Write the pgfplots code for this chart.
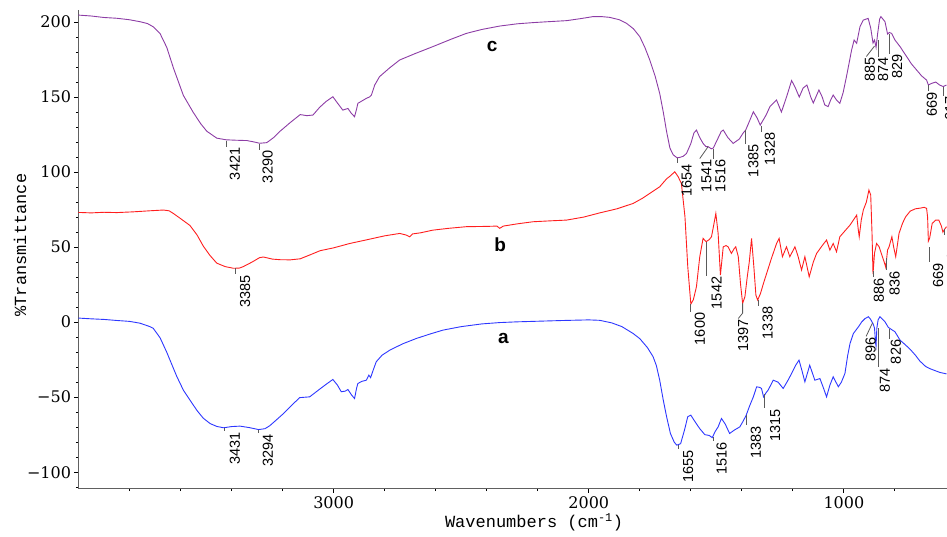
\documentclass[border=0pt]{standalone}
\usepackage{pgfplots}
\pgfplotsset{compat=1.18}
\usepackage{fontspec}
\setmainfont{Liberation Sans}
\newfontfamily\tickfont{DejaVu Serif}
\newfontfamily\labfont{Liberation Mono}
\definecolor{cpur}{RGB}{140,60,165}
\definecolor{cred}{RGB}{255,30,30}
\definecolor{cblue}{RGB}{45,55,255}
\definecolor{anngray}{RGB}{90,90,90}
\tikzset{annline/.style={draw=anngray, line width=0.8pt},
  annlab/.style={rotate=90, anchor=east, inner sep=1pt, font=\fontsize{14.5}{14.5}\selectfont}}
\newcommand{\ann}[6]{%
  \draw[annline] (axis cs:#1,#2) -- (axis cs:#3,#4);
  \node[annlab] at (axis cs:#5,#4) {#6};}
\begin{document}
\begin{tikzpicture}
\begin{axis}[
  at={(0pt,0pt)}, anchor=south west,
  width=868.5pt, height=478.7pt, scale only axis,
  x dir=reverse, xmin=596, xmax=4000, ymin=-111, ymax=208,
  axis lines*=left,
  axis line style={draw=gray!75!black, line width=1.1pt},
  xtick={1000,2000,3000}, xticklabels={1000,2000,3000},
  minor xtick={800,1200,1400,1600,1800,2200,2400,2600,2800,3200,3400,3600,3800},
  ytick={-100,-50,0,50,100,150,200}, yticklabels={−100,−50,0,50,100,150,200},
  minor ytick={-110,-90,-80,-70,-60,-40,-30,-20,-10,10,20,30,40,60,70,80,90,110,120,130,140,160,170,180,190},
  tick align=outside, major tick length=4pt, minor tick length=2.5pt,
  every tick/.style={black, line width=1pt},
  tick label style={font=\tickfont\fontsize{16}{16}\selectfont},
  /pgf/number format/assume math mode=true,
  xlabel={Wavenumbers (cm\textsuperscript{-1})},
  ylabel={\%Transmittance},
  label style={font=\labfont\fontsize{17}{17}\selectfont},
  xlabel style={at={(axis description cs:0.5245,-0.0696)}, anchor=center},
  ylabel style={at={(axis description cs:-0.0674,0.509)}, anchor=center},
]
% curve c
\addplot[cpur, line width=0.9pt] coordinates {
(4000,204.6)(3950,204)(3900,203)(3850,202.5)(3800,201.5)(3759,200.2)(3730,199)(3707,196.8)(3680,192.2)(3654,183.1)(3628,169.4)(3589,151.1)(3550,139.7)(3520,132)(3497,127.2)(3458,122.6)(3421,121.5)(3380,121.2)(3340,121)(3310,120)(3290,119.2)(3262,119.6)(3235,123)(3210,127.2)(3170,133)(3131,138.3)(3105,137.6)(3081,138)(3055,143.1)(3030,147)(3003,150.2)(2985,146)(2964,141.3)(2944,142.4)(2930,139)(2918,136.9)(2910,142)(2905,145.8)(2872,149.1)(2860,150)(2852,151.3)(2839,158)(2820,163.6)(2780,169.5)(2741,174.7)(2680,179)(2611,183.6)(2540,188.5)(2480,192.4)(2420,195)(2349,197.3)(2280,198.8)(2218,199.6)(2150,200.3)(2087,200.9)(2030,202.3)(1983,203.6)(1950,203.6)(1918,203.1)(1880,201.5)(1852,199.1)(1825,195.5)(1800,190.2)(1780,183)(1761,174.7)(1740,164)(1722,152.4)(1708,140)(1695,127)(1682,116)(1669,111.5)(1654,109.5)(1643,109.8)(1630,110.5)(1617,112.4)(1600,119)(1588,126)(1578,128)(1565,123)(1552,119.1)(1541,117)(1532,116.9)(1520,115.5)(1512,116)(1495,122)(1481,127)(1473,128)(1455,123)(1434,119.1)(1410,122)(1395,126)(1385,128)(1370,134)(1355,140.2)(1340,136)(1328,131.3)(1305,138)(1290,143.6)(1264,148)(1245,140)(1225,150)(1205,161)(1190,156)(1175,150)(1160,156)(1145,158)(1130,150)(1120,146)(1110,150)(1098,154.7)(1085,150)(1075,144.7)(1062,143.6)(1052,148)(1042,151.3)(1029,148)(1016,145.8)(1003,153)(990,163.6)(977,175)(970,181.3)(960,188)(950,185.8)(937,196.9)(924,201.3)(905,202.4)(895,196)(886,186)(880,188)(874,183)(868,192)(860,202)(855,203.6)(839,200.2)(829,192)(822,193)(813,192.4)(800,188)(780,183.6)(754,176.9)(735,172)(715,168)(695,164)(676,161.3)(669,158)(656,159.1)(640,160)(625,158)(611,157)(598,158)};
% curve b
\addplot[cred, line width=0.9pt] coordinates {
(4000,73.1)(3950,72.8)(3900,73.2)(3850,73)(3785,73.5)(3720,74.2)(3667,74.7)(3645,74.2)(3628,72.4)(3600,69)(3563,64.4)(3535,58)(3511,50.7)(3485,44.5)(3458,39.3)(3425,37)(3393,35.9)(3370,36)(3354,37)(3320,40)(3290,43)(3275,43.4)(3240,42)(3210,41.6)(3170,41.5)(3131,42.2)(3090,45)(3053,47.6)(3000,49.5)(2937,52.4)(2880,54.5)(2800,57.5)(2741,59.1)(2715,58)(2702,56.9)(2690,58.8)(2660,59.5)(2611,61.3)(2550,62.5)(2480,63.6)(2400,63.8)(2360,64)(2349,62.5)(2335,64)(2280,65.5)(2218,66.9)(2150,67.5)(2087,68)(2020,70)(1957,72.8)(1890,75.5)(1826,79.1)(1790,82.5)(1761,85.8)(1722,90.2)(1695,95.5)(1680,97.5)(1663,100.2)(1650,97)(1637,92.4)(1623,70.2)(1612,36.9)(1600,12)(1590,15)(1578,23.6)(1565,43.6)(1552,55.8)(1540,53.6)(1528,55)(1519,56.9)(1510,65)(1502,72.4)(1493,59.1)(1484,31.3)(1473,50.2)(1462,51)(1454,50.2)(1441,45.8)(1430,49)(1424,50.2)(1414,43.6)(1405,25)(1397,12.5)(1388,17)(1379,30)(1371,40)(1362,55.8)(1353,36.9)(1345,18)(1338,14.7)(1327,19.1)(1315,26)(1303,32.4)(1285,42)(1264,52.4)(1254,55.8)(1241,43.6)(1225,50.2)(1212,43.6)(1192,50.2)(1180,44)(1166,34.7)(1153,43.6)(1136,30.2)(1120,40)(1107,45.8)(1085,51)(1068,54.7)(1055,48)(1042,52.4)(1029,46.9)(1016,56.9)(995,61)(976,64.7)(950,71.3)(944,62)(940,56.9)(932,68)(924,74.7)(912,80)(902,88)(895,84.7)(890,60)(886,32)(880,46)(872,52.4)(862,50.2)(850,44)(842,40)(836,36.5)(829,48)(823,50.2)(812,56.9)(805,50)(797,43.6)(784,59.1)(770,66)(758,70.2)(740,74)(720,75.5)(700,76)(685,76.5)(676,75.8)(672,70)(669,54)(664,56)(654,65.8)(640,68)(628,68)(618,64)(612,60)(605,62)(598,63.6)};
% curve a
\addplot[cblue, line width=0.9pt] coordinates {
(4000,2.7)(3950,2.2)(3900,1.8)(3850,1.1)(3800,0.5)(3759,-0.7)(3720,-3)(3707,-4.1)(3680,-10.5)(3654,-20.1)(3615,-36.1)(3589,-45.3)(3563,-52)(3535,-59)(3511,-64)(3484,-67.6)(3458,-69.5)(3431,-70.4)(3400,-69.6)(3367,-69.3)(3330,-70.3)(3294,-71.6)(3269,-71)(3250,-69)(3230,-66)(3197,-61)(3165,-55.5)(3133,-50.3)(3094,-49.8)(3055,-44.7)(3030,-41.5)(3003,-38.2)(2985,-42)(2970,-46.4)(2955,-46)(2944,-44.9)(2930,-48.5)(2918,-50.9)(2910,-44)(2905,-40.9)(2890,-39.5)(2872,-38.7)(2862,-35.3)(2855,-37)(2845,-32)(2833,-26.4)(2810,-22)(2780,-18.7)(2730,-14.5)(2676,-10.9)(2620,-7.8)(2571,-5.3)(2500,-3)(2420,-1.2)(2350,-0.3)(2280,0.2)(2200,0.6)(2100,1.1)(2000,1.5)(1957,1.2)(1910,-0.5)(1870,-3)(1826,-7.6)(1800,-11)(1787,-13.6)(1770,-17)(1748,-23)(1735,-29)(1722,-38.7)(1708,-52)(1695,-63)(1680,-74.2)(1665,-80)(1655,-82)(1640,-81)(1625,-72)(1612,-63)(1600,-62)(1585,-66)(1565,-71)(1545,-75)(1528,-75.5)(1516,-77)(1505,-73)(1493,-69.8)(1480,-64.2)(1465,-68)(1448,-74.2)(1430,-72)(1408,-69.8)(1395,-66)(1383,-62)(1370,-56)(1355,-49.8)(1342,-43.1)(1330,-43.5)(1323,-44.2)(1315,-49.8)(1305,-47)(1297,-45.3)(1277,-38.7)(1258,-40)(1238,-44.2)(1220,-39)(1205,-34.2)(1190,-29)(1176,-25.3)(1165,-32)(1153,-39.8)(1134,-28.7)(1114,-38.7)(1094,-37.6)(1080,-44)(1068,-49.8)(1055,-42)(1042,-36.4)(1022,-43.1)(1010,-40)(996,-34.2)(985,-22)(976,-14.2)(963,-7.6)(943,-3.1)(930,0.2)(917,2.4)(904,3.6)(896,2)(886,-1)(880,-4)(876,-14)(874,-16)(871,-4)(866,1.5)(859,3.6)(850,2.2)(839,0.2)(826,-3.5)(820,-4.2)(800,-6.4)(780,-12)(760,-15)(741,-18)(720,-22)(702,-26)(680,-29.5)(663,-31)(640,-32.5)(624,-33.5)(598,-34.5)};
% annotations c
\ann{3421}{121}{3421}{117}{3387}{3421}
\ann{3290}{119}{3290}{115}{3259}{3290}
\ann{1654}{109.5}{1654}{106}{1616}{1654}
\ann{1532}{117}{1565}{109}{1539}{1541}
\ann{1512}{115.5}{1512}{109}{1484}{1516}
\ann{1385}{128}{1385}{119}{1355}{1385}
\ann{1322}{131}{1322}{127}{1290}{1328}
\ann{880}{184}{912}{177}{898}{885}
\ann{866}{188}{866}{177}{846}{874}
\ann{822}{192}{822}{179}{791}{829}
\ann{668}{158}{668}{154}{655}{669}
\ann{611}{157}{611}{151}{584}{617}
% annotations b
\ann{3386}{36}{3386}{32}{3347}{3385}
\ann{1600}{12}{1600}{7}{1565}{1600}
\ann{1540}{53.6}{1540}{31}{1499}{1542}
\draw[annline] (axis cs:1397,12.5) -- (axis cs:1397,6) -- (axis cs:1414,2.4);
\node[annlab] at (axis cs:1395,2.4) {1397};
\ann{1336}{14.7}{1336}{11}{1299}{1338}
\ann{884}{34}{884}{30}{863}{886}
\ann{832}{42.5}{832}{34.5}{801}{836}
\ann{664}{50}{664}{40}{631}{669}
\ann{608}{62}{608}{58}{576}{617}
% annotations a
\ann{3429}{-70.4}{3429}{-72.5}{3387}{3431}
\ann{3293}{-71.6}{3293}{-74}{3258}{3294}
\ann{1650}{-82}{1650}{-84.5}{1611}{1655}
\ann{1510}{-76.5}{1510}{-79.5}{1479}{1516}
\ann{1382}{-62}{1382}{-68.7}{1345}{1383}
\ann{1312}{-48}{1312}{-57.5}{1270}{1315}
\ann{888}{-0.5}{913}{-9.5}{895}{896}
\ann{866}{-4}{866}{-30}{839}{874}
\ann{820}{-4.5}{820}{-11}{796}{826}
% curve letters
\node[font=\bfseries\fontsize{19}{19}\selectfont] at (axis cs:2379,183.5) {c};
\node[font=\bfseries\fontsize{19}{19}\selectfont] at (axis cs:2347,51.3) {b};
\node[font=\bfseries\fontsize{19}{19}\selectfont] at (axis cs:2335,-11) {a};
\end{axis}
\pgfresetboundingbox
\path[use as bounding box] (-78.5pt,-47.3pt) rectangle (868.5pt,488.7pt);
\end{tikzpicture}
\end{document}
